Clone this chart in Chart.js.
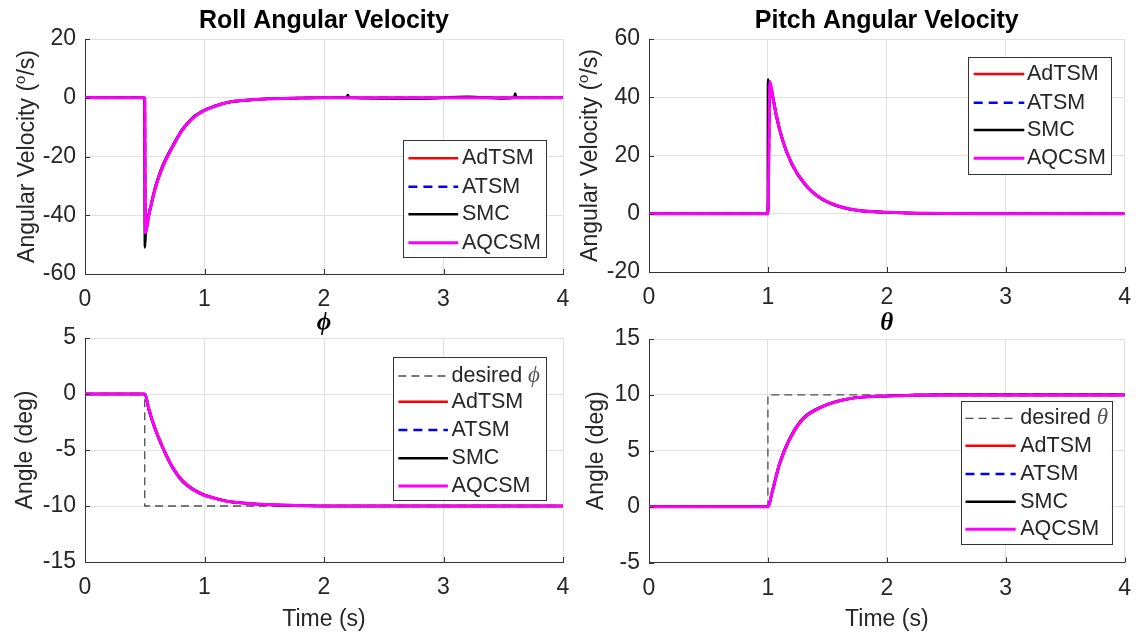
<!DOCTYPE html>
<html>
<head>
<meta charset="utf-8">
<script src="https://cdn.jsdelivr.net/npm/chart.js@4.4.1/dist/chart.umd.min.js"></script>
<style>
html,body{margin:0;padding:0;background:#ffffff;}
#wrap{position:relative;width:1143px;height:636px;overflow:hidden;background:#fff;}
#wrap canvas{position:absolute;left:0;top:0;}
</style>
</head>
<body>
<div id="wrap">
<canvas id="cRollRate" width="1143" height="636"></canvas>
<canvas id="cPitchRate" width="1143" height="636"></canvas>
<canvas id="cRollAng" width="1143" height="636"></canvas>
<canvas id="cPitchAng" width="1143" height="636"></canvas>
</div>
<script>
// ---------------- DATA ----------------
const seriesNames = ['AdTSM', 'ATSM', 'SMC', 'AQCSM'];

const timeTicks = [0, 1, 2, 3, 4];
const rollRateTicks = [-60, -40, -20, 0, 20];
const pitchRateTicks = [-20, 0, 20, 40, 60];
const rollAngleTicks = [-15, -10, -5, 0, 5];
const pitchAngleTicks = [-5, 0, 5, 10, 15];

// Roll angular velocity (deg/s)
const rollRateTime = [0, 0.5, 0.505, 0.536, 0.59, 0.647, 0.73, 0.81, 0.9, 1.0, 1.1, 1.2, 1.35, 1.5, 1.75, 2.0, 2.5, 3.0, 3.5, 4.0];
const rollRateAdTSM = [0, 0, -45.5, -39.8, -30.8, -24.0, -17.1, -11.4, -7.1, -4.4, -2.8, -1.6, -0.9, -0.45, -0.15, 0, 0, 0, 0, 0];
const rollRateATSM  = [0, 0, -45.8, -39.5, -30.4, -23.6, -16.8, -11.1, -6.9, -4.2, -2.6, -1.5, -0.85, -0.4, -0.15, 0, 0, 0, 0, 0];
const rollRateAQCSM = [0, 0, -46.0, -39.6, -30.5, -23.7, -16.9, -11.2, -7.0, -4.3, -2.7, -1.5, -0.85, -0.45, -0.15, 0, 0, 0, 0, 0];
const rollRateTimeSMC = [0, 0.499, 0.501, 0.512, 0.536, 0.59, 0.647, 0.73, 0.81, 0.9, 1.0, 1.1, 1.2, 1.35, 1.5, 1.75, 2.0, 2.19, 2.2, 2.21, 2.8, 3.2, 3.5, 3.59, 3.6, 3.61, 4.0];
const rollRateSMC   = [0, 0, -51.0, -43.0, -39.2, -30.1, -23.3, -16.6, -11.0, -6.8, -4.2, -2.6, -1.5, -0.8, -0.4, -0.1, 0, 0, 0.9, 0, -0.3, 0.3, -0.2, 0, 1.4, 0, 0];

// Pitch angular velocity (deg/s)
const pitchRateTime = [0, 1.0, 1.017, 1.04, 1.067, 1.12, 1.2, 1.31, 1.45, 1.675, 2.0, 2.5, 3.0, 4.0];
const pitchRateAdTSM = [0, 0, 43.5, 40.8, 35.0, 26.0, 17.4, 10.4, 5.3, 1.8, 0.5, 0.1, 0, 0];
const pitchRateATSM  = [0, 0, 45.0, 40.6, 34.7, 25.9, 17.3, 10.3, 5.2, 1.7, 0.5, 0.1, 0, 0];
const pitchRateAQCSM = [0, 0, 45.4, 40.5, 34.5, 25.8, 17.2, 10.3, 5.2, 1.7, 0.5, 0.1, 0, 0];
const pitchRateTimeSMC = [0, 0.999, 1.001, 1.01, 1.04, 1.067, 1.12, 1.2, 1.31, 1.45, 1.675, 2.0, 2.5, 3.0, 4.0];
const pitchRateSMC   = [0, 0, 46.2, 42.5, 40.0, 34.0, 25.5, 17.0, 10.1, 5.1, 1.6, 0.5, 0.1, 0, 0];

// Roll angle phi (deg)
const rollAngleTime = [0, 0.5, 0.536, 0.59, 0.647, 0.73, 0.81, 0.9, 0.99, 1.1, 1.2, 1.35, 1.48, 1.75, 2.0, 2.5, 3.0, 3.5, 4.0];
const rollAngleAdTSM = [0, 0, -1.40, -3.15, -4.65, -6.45, -7.65, -8.45, -8.95, -9.33, -9.58, -9.75, -9.85, -9.95, -10, -10, -10, -10, -10];
const rollAngleATSM  = [0, 0, -1.42, -3.18, -4.68, -6.48, -7.68, -8.48, -8.98, -9.34, -9.60, -9.75, -9.85, -9.95, -10, -10, -10, -10, -10];
const rollAngleSMC   = [0, 0, -1.48, -3.25, -4.75, -6.55, -7.75, -8.52, -9.02, -9.36, -9.61, -9.76, -9.86, -9.95, -10, -10, -10, -10, -10];
const rollAngleAQCSM = [0, 0, -1.43, -3.20, -4.70, -6.50, -7.70, -8.50, -9.00, -9.35, -9.60, -9.75, -9.85, -9.95, -10, -10, -10, -10, -10];
const rollDesiredTime = [0, 0.5, 0.5, 4];
const rollDesired = [0, 0, -10, -10];

// Pitch angle theta (deg)
const pitchAngleTime = [0, 1.0, 1.04, 1.1, 1.18, 1.29, 1.46, 1.68, 2.0, 2.5, 3.0, 3.5, 4.0];
const pitchAngleAdTSM = [0, 0, 1.40, 3.80, 5.90, 7.75, 8.93, 9.63, 9.90, 10, 10, 10, 10];
const pitchAngleATSM  = [0, 0, 1.48, 3.88, 6.00, 7.80, 8.96, 9.65, 9.90, 10, 10, 10, 10];
const pitchAngleSMC   = [0, 0, 1.55, 3.95, 6.05, 7.85, 8.98, 9.66, 9.90, 10, 10, 10, 10];
const pitchAngleAQCSM = [0, 0, 1.50, 3.90, 6.00, 7.80, 8.96, 9.65, 9.90, 10, 10, 10, 10];
const pitchDesiredTime = [0, 1, 1, 4];
const pitchDesired = [0, 0, 10, 10];

// ---------------- STYLE ----------------
const W = 1143, H = 636;
const SANS = "'Liberation Sans', Arial, Helvetica, sans-serif";
const SERIF = "'Liberation Serif', 'DejaVu Serif', 'Times New Roman', serif";
const TXT = '#262626';
const AXIS = '#333333';
const GRID = '#e1e1e1';
const styles = {
  AdTSM: {color: '#ff0000', dash: [], width: 2.6, order: 4},
  ATSM:  {color: '#0000ff', dash: [9, 6], width: 2.6, order: 3},
  SMC:   {color: '#000000', dash: [], width: 2.6, order: 2},
  AQCSM: {color: '#ff00ff', dash: [], width: 3, order: 1},
  desired: {color: '#4d4d4d', dash: [8, 5], width: 1.3, order: 5}
};

function pts(t, v) { return t.map((x, i) => ({x: x, y: v[i]})); }

function mkSeries(name, t, v) {
  const s = styles[name];
  return {
    label: name, data: pts(t, v), borderColor: s.color, backgroundColor: s.color,
    borderWidth: s.width, borderDash: s.dash, pointRadius: 0, fill: false,
    cubicInterpolationMode: 'monotone', order: s.order, borderCapStyle: 'butt', borderJoinStyle: 'round'
  };
}
function mkDesired(t, v) {
  const s = styles.desired;
  return {
    label: 'desired', data: pts(t, v), borderColor: s.color, borderWidth: s.width,
    borderDash: s.dash, pointRadius: 0, fill: false, tension: 0, order: s.order
  };
}

function drawRich(ctx, parts, x, y, rot) {
  ctx.save();
  ctx.translate(x, y);
  if (rot) ctx.rotate(-Math.PI / 2);
  let total = 0;
  parts.forEach(p => { ctx.font = p.font; total += ctx.measureText(p.t).width; });
  let cx = -total / 2;
  ctx.textBaseline = 'alphabetic';
  ctx.textAlign = 'left';
  parts.forEach(p => {
    ctx.font = p.font; ctx.fillStyle = p.color || TXT;
    ctx.fillText(p.t, cx, p.dy || 0);
    cx += ctx.measureText(p.t).width;
  });
  ctx.restore();
}

function decorPlugin(spec) {
  return {
    id: 'decor_' + spec.id,
    afterDatasetsDraw(chart) {
      const ctx = chart.ctx, a = chart.chartArea;
      const xs = chart.scales.x, ys = chart.scales.y;
      ctx.save();
      ctx.strokeStyle = AXIS; ctx.lineWidth = 1; ctx.setLineDash([]);
      ctx.beginPath();
      timeTicks.forEach(v => { const px = Math.round(xs.getPixelForValue(v)) + 0.5; ctx.moveTo(px, a.bottom); ctx.lineTo(px, a.bottom - 5); });
      spec.yTicks.forEach(v => { const py = Math.round(ys.getPixelForValue(v)) + 0.5; ctx.moveTo(a.left, py); ctx.lineTo(a.left + 5, py); });
      ctx.stroke();
      ctx.restore();
    },
    afterDraw(chart) {
      const ctx = chart.ctx, a = chart.chartArea;
      const cx = (a.left + a.right) / 2, cy = (a.top + a.bottom) / 2;
      ctx.save();
      if (spec.title) drawRich(ctx, [{t: spec.title, font: 'bold 25px ' + SANS, color: '#000'}], cx, 28, false);
      if (spec.xlabel) drawRich(ctx, spec.xlabel, cx, spec.xlabelY, false);
      drawRich(ctx, spec.ylabel, spec.ylabelX, cy, true);
      const L = spec.legend;
      ctx.fillStyle = '#ffffff';
      ctx.fillRect(L.box[0], L.box[1], L.box[2] - L.box[0], L.box[3] - L.box[1]);
      ctx.strokeStyle = AXIS; ctx.lineWidth = 1; ctx.setLineDash([]);
      ctx.strokeRect(Math.round(L.box[0]) + 0.5, Math.round(L.box[1]) + 0.5, Math.round(L.box[2] - L.box[0]), Math.round(L.box[3] - L.box[1]));
      L.items.forEach((it, i) => {
        const st = styles[it.style];
        const y = L.rows[i];
        ctx.strokeStyle = st.color; ctx.lineWidth = st.width; ctx.setLineDash(st.dash);
        ctx.beginPath(); ctx.moveTo(L.line[0], y); ctx.lineTo(L.line[1], y); ctx.stroke();
        ctx.setLineDash([]);
        ctx.textBaseline = 'middle'; ctx.textAlign = 'left';
        let tx = L.textX;
        it.parts.forEach(p => {
          ctx.font = p.font; ctx.fillStyle = p.color || TXT;
          ctx.fillText(p.t, tx, y + (p.dy || 0));
          tx += ctx.measureText(p.t).width;
        });
      });
      ctx.restore();
    }
  };
}

const LFONT = '21.5px ' + SANS;
function legendItems(greek) {
  const items = [];
  if (greek) items.push({style: 'desired', parts: [{t: 'desired ', font: LFONT}, {t: greek, font: 'italic 23px ' + SERIF, color: '#555555', dy: 0}]});
  seriesNames.forEach(n => items.push({style: n, parts: [{t: n, font: LFONT}]}));
  return items;
}

function makePlot(spec) {
  const a = spec.area;
  new Chart(document.getElementById(spec.id), {
    type: 'line',
    data: {datasets: spec.datasets},
    options: {
      responsive: false, maintainAspectRatio: false, animation: false, devicePixelRatio: 1, events: [],
      layout: {padding: {left: 0, top: a.t, right: W - a.r, bottom: 0}},
      plugins: {legend: {display: false}, tooltip: {enabled: false}, title: {display: false}},
      scales: {
        x: {
          type: 'linear', min: 0, max: 4,
          afterBuildTicks: s => { s.ticks = timeTicks.map(v => ({value: v})); },
          afterFit: s => { s.height = H - a.b; },
          grid: {color: GRID, lineWidth: 1, drawTicks: false},
          border: {display: true, color: AXIS, width: 1},
          ticks: {font: {family: SANS, size: 23}, color: TXT, padding: 12, maxRotation: 0, autoSkip: false}
        },
        y: {
          type: 'linear', min: spec.yTicks[0], max: spec.yTicks[spec.yTicks.length - 1],
          afterBuildTicks: s => { s.ticks = spec.yTicks.map(v => ({value: v})); },
          afterFit: s => { s.width = a.l; },
          grid: {color: GRID, lineWidth: 1, drawTicks: false},
          border: {display: true, color: AXIS, width: 1},
          ticks: {font: {family: SANS, size: 23}, color: TXT, padding: 9, autoSkip: false}
        }
      }
    },
    plugins: [decorPlugin(spec)]
  });
}

const YL = '23px ' + SANS;

makePlot({
  id: 'cRollRate', area: {l: 85, t: 39, r: 563, b: 274}, yTicks: rollRateTicks,
  title: 'Roll Angular Velocity',
  xlabel: [{t: '\u03D5', font: 'italic bold 25px ' + SERIF, color: '#000'}], xlabelY: 330,
  ylabel: [{t: 'Angular Velocity (', font: YL}, {t: 'o', font: '15px ' + SANS, dy: -9}, {t: '/s)', font: YL}], ylabelX: 34,
  datasets: [
    mkSeries('AdTSM', rollRateTime, rollRateAdTSM),
    mkSeries('ATSM', rollRateTime, rollRateATSM),
    mkSeries('SMC', rollRateTimeSMC, rollRateSMC),
    mkSeries('AQCSM', rollRateTime, rollRateAQCSM)
  ],
  legend: {box: [403, 140, 546, 256.5], rows: [158.3, 186.7, 214.3, 242.7], line: [408.4, 458.2], textX: 462, items: legendItems(null)}
});

makePlot({
  id: 'cPitchRate', area: {l: 649, t: 39, r: 1128, b: 272}, yTicks: pitchRateTicks,
  title: 'Pitch Angular Velocity',
  xlabel: [{t: '\u03B8', font: 'italic bold 25px ' + SERIF, color: '#000'}], xlabelY: 330,
  ylabel: [{t: 'Angular Velocity (', font: YL}, {t: 'o', font: '15px ' + SANS, dy: -9}, {t: '/s)', font: YL}], ylabelX: 597,
  datasets: [
    mkSeries('AdTSM', pitchRateTime, pitchRateAdTSM),
    mkSeries('ATSM', pitchRateTime, pitchRateATSM),
    mkSeries('SMC', pitchRateTimeSMC, pitchRateSMC),
    mkSeries('AQCSM', pitchRateTime, pitchRateAQCSM)
  ],
  legend: {box: [968, 56.7, 1111.3, 173.3], rows: [74, 102.7, 130, 158.3], line: [973.7, 1024.3], textX: 1027, items: legendItems(null)}
});

makePlot({
  id: 'cRollAng', area: {l: 85, t: 338, r: 563, b: 562}, yTicks: rollAngleTicks,
  xlabel: [{t: 'Time (s)', font: YL}], xlabelY: 626,
  ylabel: [{t: 'Angle (deg)', font: YL}], ylabelX: 32,
  datasets: [
    mkDesired(rollDesiredTime, rollDesired),
    mkSeries('AdTSM', rollAngleTime, rollAngleAdTSM),
    mkSeries('ATSM', rollAngleTime, rollAngleATSM),
    mkSeries('SMC', rollAngleTime, rollAngleSMC),
    mkSeries('AQCSM', rollAngleTime, rollAngleAQCSM)
  ],
  legend: {box: [392.5, 356.7, 545.8, 500], rows: [376, 401.7, 430, 458.3, 486], line: [398.4, 447.9], textX: 451.6, items: legendItems('\u03D5')}
});

makePlot({
  id: 'cPitchAng', area: {l: 649, t: 339, r: 1128, b: 562.5}, yTicks: pitchAngleTicks,
  xlabel: [{t: 'Time (s)', font: YL}], xlabelY: 626,
  ylabel: [{t: 'Angle (deg)', font: YL}], ylabelX: 603,
  datasets: [
    mkDesired(pitchDesiredTime, pitchDesired),
    mkSeries('AdTSM', pitchAngleTime, pitchAngleAdTSM),
    mkSeries('ATSM', pitchAngleTime, pitchAngleATSM),
    mkSeries('SMC', pitchAngleTime, pitchAngleSMC),
    mkSeries('AQCSM', pitchAngleTime, pitchAngleAQCSM)
  ],
  legend: {box: [960.7, 400.7, 1111.3, 544], rows: [418.3, 445.7, 474, 501.7, 529.3], line: [965.5, 1015.7], textX: 1020.2, items: legendItems('\u03B8')}
});
</script>
</body>
</html>
